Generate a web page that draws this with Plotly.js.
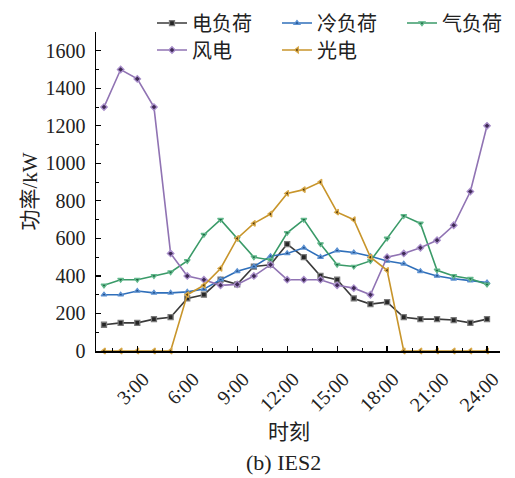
<!DOCTYPE html>
<html>
<head>
<meta charset="utf-8">
<script src="https://cdn.plot.ly/plotly-3.0.1.min.js"></script>
<style>
html,body{margin:0;padding:0;background:#fff;}
#chart{width:515px;height:478px;}
</style>
</head>
<body>
<div id="chart"></div>
<script>
// Hours 1..24
const hours = [1,2,3,4,5,6,7,8,9,10,11,12,13,14,15,16,17,18,19,20,21,22,23,24];
const tickHours = [3,6,9,12,15,18,21,24];
const tickLabels = ["3:00","6:00","9:00","12:00","15:00","18:00","21:00","24:00"];

const seriesNames = ["电负荷","冷负荷","气负荷","风电","光电"];
const elecLoad = [140,150,150,170,180,280,300,380,355,450,460,570,500,400,380,280,250,260,180,170,170,165,150,170];
const coolLoad = [300,300,320,310,310,315,330,380,425,450,505,520,550,500,535,525,505,480,465,425,400,385,375,365];
const gasLoad  = [350,380,380,400,420,480,620,700,600,500,485,630,700,570,460,450,480,600,720,680,430,400,385,355];
const windPower = [1300,1500,1450,1300,520,400,380,350,355,400,460,380,380,380,350,335,300,500,520,550,590,670,850,1200];
const pvPower  = [0,0,0,0,0,300,350,440,600,680,730,840,860,900,740,700,500,430,0,0,0,0,0,0];

const lineColors = ["#3a3a3a","#2f6fba","#3a9a68","#9073b3","#c8952b"];
const markerFill = ["#262626","#1f4f8c","#1f6a45","#3f2a55","#4d3508"];
const markerEdge = ["#7a7a7a","#5d92d2","#62b98c","#a98fcb","#d9a948"];
const symbols = ["square","triangle-up","triangle-down","diamond","triangle-left"];
const values = [elecLoad, coolLoad, gasLoad, windPower, pvPower];
// one legend box per entry, laid out as a 3 + 2 grid
const legendIds = ["legend","legend2","legend3","legend4","legend5"];
const legendX = [0.1386, 0.448, 0.7574, 0.1386, 0.448];
const legendY = [1.028, 1.028, 1.028, 0.9436, 0.9436];

const traces = values.map((v,i)=>({
  x: hours, y: v, name: seriesNames[i], type: 'scatter', mode: 'lines+markers',
  legend: legendIds[i],
  line: {color: lineColors[i], width: 1.6},
  marker: {symbol: symbols[i], size: 5, color: markerFill[i], line: {width: 1.3, color: markerEdge[i]}},
  cliponaxis: false
}));

const FONT = "Liberation Serif, 'Noto Sans CJK SC', serif";

const layout = {
  width: 515, height: 478,
  margin: {l: 96, r: 15, t: 32, b: 127, autoexpand: false},
  paper_bgcolor: '#fff', plot_bgcolor: '#fff',
  font: {family: FONT, size: 20, color: '#222'},
  showlegend: true,
  xaxis: {
    range: [0.52, 24.78], showgrid: false, zeroline: false,
    showline: true, linecolor: '#000', linewidth: 1.5,
    tickmode: 'array', tickvals: tickHours, ticktext: tickLabels,
    ticks: 'inside', ticklen: 5, tickwidth: 1.2, tickcolor: '#000',
    tickangle: -45, ticklabelstandoff: 7, ticklabelshift: 6,
    tickfont: {family: FONT, size: 20, color: '#222'},
    minor: {tickmode: 'linear', tick0: 0, dtick: 1.5, ticks: 'inside', ticklen: 3, tickwidth: 1, tickcolor: '#000', showgrid: false}
  },
  yaxis: {
    range: [0, 1700], showgrid: false, zeroline: false,
    showline: true, linecolor: '#000', linewidth: 1.5,
    tickmode: 'linear', tick0: 0, dtick: 200,
    ticks: 'inside', ticklen: 5, tickwidth: 1.2, tickcolor: '#000',
    ticklabelstandoff: 5,
    tickfont: {family: FONT, size: 20, color: '#222'},
    minor: {tickmode: 'linear', tick0: 0, dtick: 100, ticks: 'inside', ticklen: 3, tickwidth: 1, tickcolor: '#000', showgrid: false},
    title: {text: '功率/kW', font: {family: FONT, size: 21, color: '#222'}, standoff: 2}
  },
  annotations: [
    {text: '时刻', xref: 'paper', yref: 'paper', x: 0.478, y: -0.254, xanchor: 'center', yanchor: 'middle', showarrow: false, font: {family: FONT, size: 21, color: '#222'}},
    {text: '(b) IES2', xref: 'paper', yref: 'paper', x: 0.463, y: -0.348, xanchor: 'center', yanchor: 'middle', showarrow: false, font: {family: FONT, size: 22, color: '#222'}}
  ]
};
legendIds.forEach((id,i)=>{
  layout[id] = {
    x: legendX[i], y: legendY[i], xanchor: 'left', yanchor: 'middle',
    bgcolor: 'rgba(0,0,0,0)', borderwidth: 0,
    font: {family: FONT, size: 20, color: '#222'}
  };
});

Plotly.newPlot('chart', traces, layout, {displayModeBar: false, staticPlot: true});
</script>
</body>
</html>
